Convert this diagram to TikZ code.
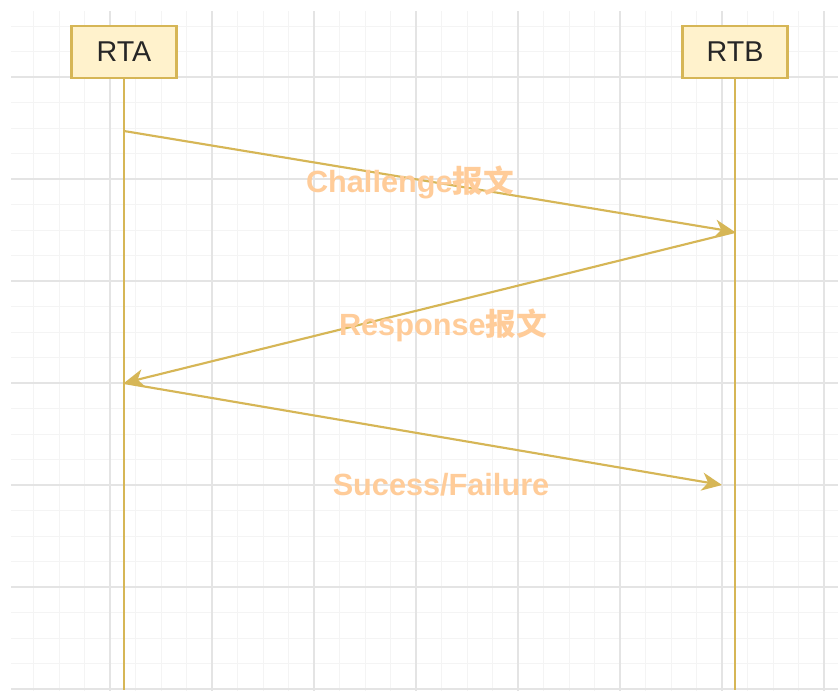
\documentclass[tikz,border=0pt]{standalone}
\usepackage{fontspec}
\setmainfont{Liberation Sans}
\newfontfamily\cjk{Noto Sans CJK SC}
\usetikzlibrary{arrows.meta}

\definecolor{gridmajor}{HTML}{E4E4E4}
\definecolor{gridminor}{HTML}{F4F4F4}
\definecolor{lineGold}{HTML}{D6B656}
\definecolor{boxFill}{HTML}{FFF2CC}
\definecolor{msgText}{HTML}{FFCC99}

\tikzset{
  actor/.style={draw=lineGold, fill=boxFill, line width=1.8pt,
    minimum width=78.75pt, minimum height=39pt, inner sep=0pt,
    font=\fontsize{21.5}{25}\selectfont, text=black!85},
  lifeline/.style={draw=lineGold, line width=1.6pt},
  msg/.style={draw=lineGold, line width=1.6pt,
    -{Stealth[length=15pt, width=13.5pt, inset=4.5pt]}},
  msglabel/.style={font=\fontsize{23}{27}\selectfont\bfseries, text=msgText, inner sep=0pt}
}

\begin{document}
\begin{tikzpicture}[x=0.75pt, y=-0.75pt]
  \useasboundingbox (0,0) rectangle (838,690);
  \fill[white] (0,0) rectangle (838,690);

  % background grid
  \begin{scope}
    \clip (11,11) rectangle (838,690);
    \foreach \k in {-4,...,29} {
      \draw[gridminor, line width=0.75pt] ({110+25.5*\k},0) -- ({110+25.5*\k},700);
    }
    \foreach \k in {-3,...,25} {
      \draw[gridminor, line width=0.75pt] (0,{77+25.5*\k}) -- (850,{77+25.5*\k});
    }
    \foreach \k in {-1,...,7} {
      \draw[gridmajor, line width=0.9pt] ({110+102*\k},0) -- ({110+102*\k},700);
    }
    \foreach \k in {-1,...,6} {
      \draw[gridmajor, line width=0.9pt] (0,{77+102*\k}) -- (850,{77+102*\k});
    }
  \end{scope}

  % participants
  \node[actor] (rta) at (124,52) {RTA};
  \node[actor] (rtb) at (735,52) {RTB};

  % lifeline ends and message points
  \coordinate (rtaEnd) at (124,690);
  \coordinate (rtbEnd) at (735,690);
  \coordinate (a1) at (124,131);
  \coordinate (b1) at (735,232);
  \coordinate (a2) at (124,383);
  \coordinate (b2) at (722,485);

  \draw[lifeline] (rta.south) -- (rtaEnd);
  \draw[lifeline] (rtb.south) -- (rtbEnd);

  % messages
  \draw[msg] (a1) -- (b1);
  \draw[msg] (b1) -- (a2);
  \draw[msg] (a2) -- (b2);

  % message labels
  \node[msglabel] (l1) at (410,182) {Challenge{\cjk\bfseries 报文}};
  \node[msglabel] (l2) at (443,325) {Response{\cjk\bfseries 报文}};
  \node[msglabel] (l3) at (441,485) {Sucess/Failure};
\end{tikzpicture}
\end{document}
